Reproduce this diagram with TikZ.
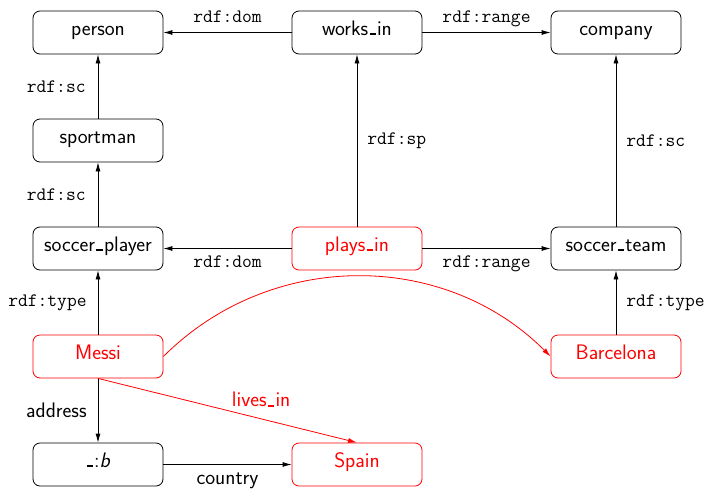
\documentclass[tikz,border=0pt]{standalone}
\usetikzlibrary{arrows.meta}
\newcommand\usc{\kern.06em\rule{.3em}{.1em}\kern.06em}
\begin{document}
\begin{tikzpicture}[x=1pt,y=-1pt,
  font=\fontsize{21}{25}\selectfont\sffamily,
  box/.style={draw, rounded corners=7pt, minimum width=130pt, minimum height=43pt, inner sep=2pt, line width=0.8pt, text height=0.75em, text depth=0.2em},
  rbox/.style={box, draw=red, text=red},
  arr/.style={-{Latex[length=9pt,width=5pt]}, line width=0.8pt},
  rarr/.style={arr, draw=red, color=red},
  tl/.style={font=\fontsize{19}{23}\selectfont\ttfamily},
  lab/.style={midway, inner sep=0pt},
]
\useasboundingbox (0,0) rectangle (709,488);
\node[box] (person) at (98,32.5) {person};
\node[box] (works) at (357,32.5) {works\usc in};
\node[box] (company) at (616,32.5) {company};
\node[box] (sportman) at (98,140.5) {sportman};
\node[box] (player) at (98,248.5) {soccer\usc player};
\node[rbox] (plays) at (357,248.5) {plays\usc in};
\node[box] (team) at (616,248.5) {soccer\usc team};
\node[rbox] (messi) at (98,356.5) {Messi};
\node[rbox] (barca) at (616,356.5) {Barcelona};
\node[box] (b) at (98,464.5) {\usc:\textit{b}};
\node[rbox] (spain) at (357,464.5) {Spain};

\draw[arr] (works) -- (person) node[lab, tl, anchor=base, yshift=10pt] {rdf:dom};
\draw[arr] (works) -- (company) node[lab, tl, anchor=base, yshift=10pt] {rdf:range};
\draw[arr] (sportman) -- (person) node[lab, tl, anchor=east, xshift=-12pt] {rdf:sc};
\draw[arr] (player) -- (sportman) node[lab, tl, anchor=east, xshift=-12pt] {rdf:sc};
\draw[arr] (plays) -- (works) node[lab, tl, anchor=west, xshift=10pt] {rdf:sp};
\draw[arr] (team) -- (company) node[lab, tl, anchor=west, xshift=10pt] {rdf:sc};
\draw[arr] (plays) -- (player) node[lab, tl, anchor=base, yshift=-18.5pt] {rdf:dom};
\draw[arr] (plays) -- (team) node[lab, tl, anchor=base, yshift=-18.5pt] {rdf:range};
\draw[arr] (messi) -- (player) node[lab, tl, anchor=east, xshift=-11pt] {rdf:type};
\draw[arr] (barca) -- (team) node[lab, tl, anchor=west, xshift=10pt] {rdf:type};
\draw[arr] (messi) -- (b) node[lab, anchor=east, xshift=-11pt] {address};
\draw[arr] (b) -- (spain) node[lab, anchor=base, yshift=-20pt] {country};
\draw[rarr] (messi.east) to[bend left=45] (barca.west);
\draw[rarr] (messi.south) -- (spain.north) node[pos=0.63, inner sep=0pt, anchor=base, yshift=12pt, text=red] {lives\usc in};
\end{tikzpicture}
\end{document}
